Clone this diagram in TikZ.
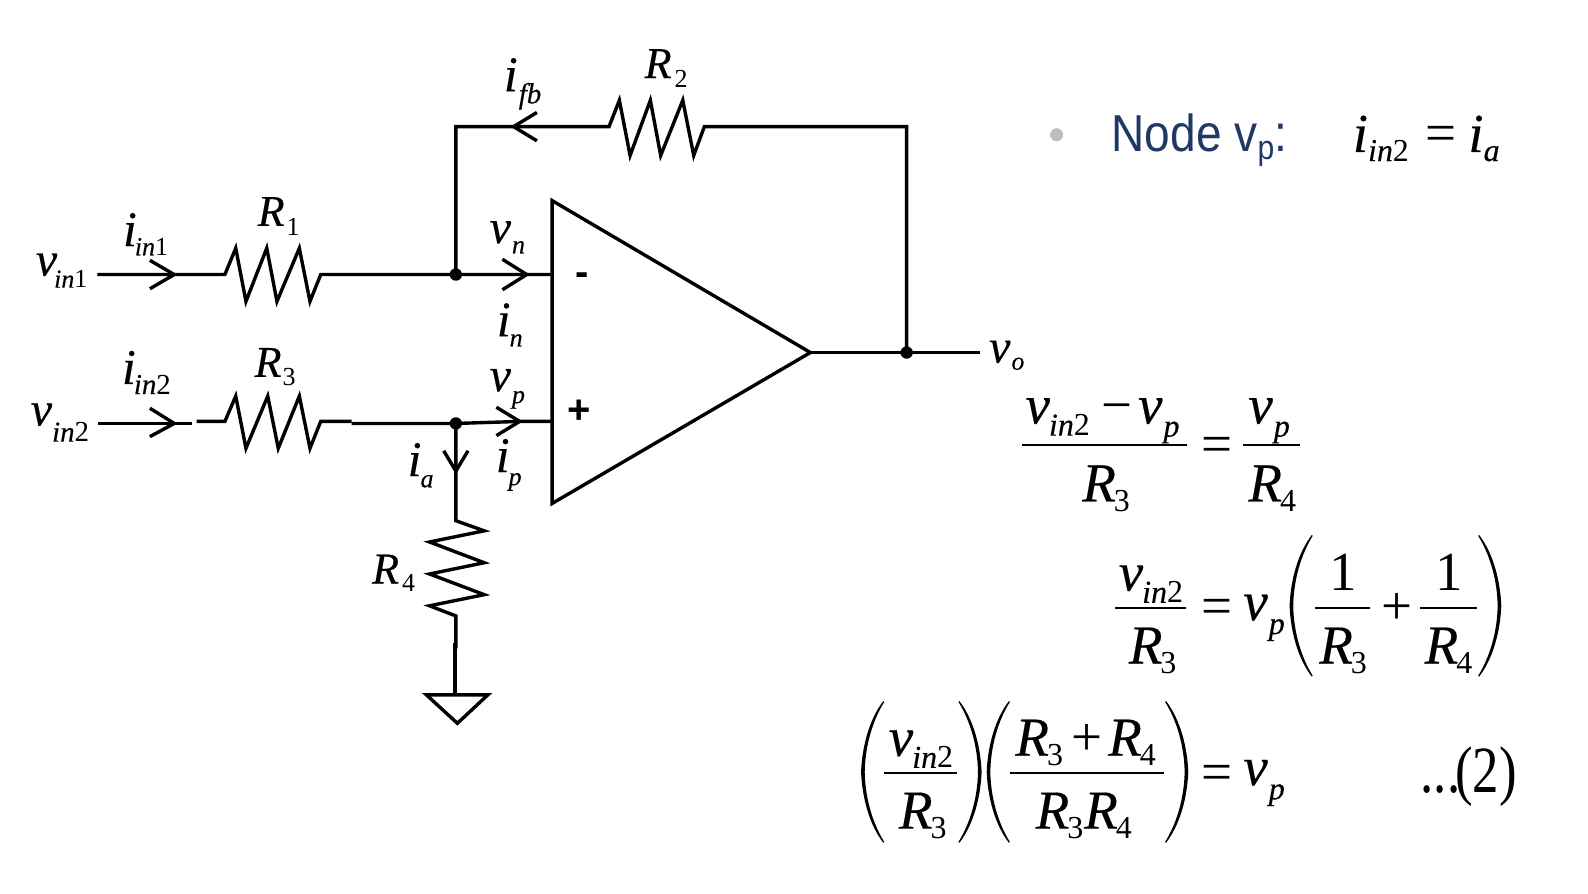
\documentclass[tikz,border=0pt]{standalone}
\usepackage{fontspec}
\setmainfont{Liberation Serif}[ItalicFeatures={FakeBold=0.3}]
\setsansfont{Liberation Sans}
\usetikzlibrary{calc}
\newdimen\uu \uu=0.5065pt
\newcommand\cmm{\fontsize{25}{25}\selectfont\itshape}
\newcommand\cvv{\fontsize{24}{24}\selectfont\itshape}
\newcommand\crr{\fontsize{22}{22}\selectfont\itshape}
\newcommand\eqf{\fontsize{27.5}{27.5}\selectfont\itshape}
\newcommand\subc[3]{\kern#1\uu\raisebox{-#2\uu}{\fontsize{13}{13}\selectfont #3}}
\newcommand\subd[3]{\kern#1\uu\raisebox{-#2\uu}{\fontsize{14.5}{14.5}\selectfont #3}}
\newcommand\sube[3]{\kern#1\uu\raisebox{-#2\uu}{\fontsize{16}{16}\selectfont #3}}
\newcommand\upp[1]{{\upshape #1}}
\definecolor{navy}{HTML}{1F3864}
\definecolor{dotgray}{HTML}{BDBDBD}
\tikzset{
  wire/.style={line width=1.7pt,line join=miter,black},
  jdot/.style={circle,fill=black,inner sep=0pt,minimum size=6.2pt},
  txt/.style={inner sep=0pt,anchor=base west},
  fbar/.style={line width=0.8pt,black},
}
\newcommand\TX[4]{\node[txt] (#1) at (#2,#3) {#4};}
\newcommand\bigparen[3]{\begin{scope}[shift={(#1,#2)},xscale=#3]
\fill (22,0) .. controls (8,18) and (1,45) .. (0,70) .. controls (1,95) and (8,122) .. (22,140) -- (22.8,139) .. controls (11,120) and (4,95) .. (3.6,70) .. controls (4,45) and (11,20) .. (22.8,1) -- cycle;
\end{scope}}
\newcommand\barbs[4]{\draw[wire] ($(#1)+(#2,#3)$) -- (#1) -- ($(#1)+(#2,#4)$);}
\begin{document}
\begin{tikzpicture}[x=0.5065pt,y=-0.5065pt]
\useasboundingbox (0,0) rectangle (1567.6,882.5);
% op amp
\coordinate (t1) at (545,198); \coordinate (t2) at (800,348); \coordinate (t3) at (545,497);
\draw[wire] (t1) -- (t2) -- (t3) -- cycle;
\node[inner sep=0pt,font=\sffamily\bfseries\fontsize{20}{20}\selectfont] (minus) at (575,276) {-};
\node[inner sep=0pt,font=\sffamily\bfseries\fontsize{20}{20}\selectfont] (plus) at (572,406) {+};
% coordinates
\coordinate (vi1) at (96,271); \coordinate (n1) at (545,271);
\node[jdot] (j1) at (450,271) {};
\coordinate (a1) at (172,271); \coordinate (a2) at (520,271);
\coordinate (fbc) at (450,125); \coordinate (fbr) at (895,125);
\node[jdot] (j3) at (895,348) {};
\coordinate (a3) at (507,125);
\coordinate (vo) at (967,348);
\coordinate (vi2) at (97,418); \coordinate (a4) at (172,418); \coordinate (brk) at (190,418);
\coordinate (brk2) at (194,416); \coordinate (r3l) at (222,416);
\node[jdot] (j2) at (450,418) {};
\coordinate (a5) at (513,416); \coordinate (n2) at (545,416);
\coordinate (a6) at (450,465);
% R1 branch
\draw[wire] (vi1) -- (222,271) -- (232.7,245) -- (242.8,297.5) -- (263.3,245) -- (273.4,297.5) -- (295.5,245) -- (306,297.5) -- (316.6,271) -- (j1.center) -- (n1);
\barbs{a1}{-24}{-14}{14}
\barbs{a2}{-24}{-15}{15}
% feedback
\draw[wire] (j1.center) -- (fbc) -- (601.2,125) -- (611.4,99) -- (622,153.5) -- (642,99) -- (652.2,153.5) -- (674,99) -- (684.8,153.5) -- (695.3,125) -- (fbr) -- (j3.center);
\draw[wire] ($(a3)+(23,-14)$) -- (a3) -- ($(a3)+(23,14)$);
% output
\draw[wire] (t2) -- (j3.center) -- (vo);
% R3 branch
\draw[wire] (vi2) -- (brk);
\barbs{a4}{-24}{-15}{13}
\draw[wire] (brk2) -- (r3l) -- (232.7,391) -- (242.8,442.5) -- (264.3,391) -- (274.7,442.5) -- (295.5,391) -- (306,442.5) -- (316.6,416) -- (347,416);
\draw[wire] (347,418) -- (j2.center) -- (a5) -- (n2);
\barbs{a5}{-23}{-14}{14}
% R4 branch
\draw[wire] (j2.center) -- (450,514) -- (478,524) -- (424,535) -- (478,555.5) -- (424,566.6) -- (478,587) -- (424,598) -- (450,608) -- (450,640);
\draw[wire] ($(a6)+(-12,-20)$) -- (a6) -- ($(a6)+(12,-20)$);
\draw[wire] (449,635) -- (449,685);
\draw[wire] (421,686) -- (481.5,686) -- (451.5,714) -- cycle;
% circuit labels
\TX{lvin1}{35}{272}{\cvv v\subc{-3}{12}{in\upp{1}}}
\TX{lvin2}{30}{420}{\cvv v\subd{0}{16}{in\upp{2}}}
\TX{liin1}{121}{243}{\cmm i\subc{-2}{9}{in\upp{1}}}
\TX{liin2}{120}{379}{\cmm i\subd{-2}{10}{in\upp{2}}}
\TX{lifb}{497}{90}{\cmm i\subd{1}{12}{fb}}
\TX{lr1}{254}{223}{\crr R\subc{2}{9}{\upp{1}}}
\TX{lr2}{636}{77}{\crr R\subc{3}{9}{\upp{2}}}
\TX{lr3}{251}{372}{\crr R\subc{1}{9}{\upp{3}}}
\TX{lr4}{367}{576}{\crr R\subc{3}{8}{\upp{4}}}
\TX{lvn}{483}{240}{\cvv v\subc{1}{10}{n}}
\TX{lvp}{483}{386}{\cvv v\subc{1}{12}{p}}
\TX{lin}{490}{332}{\cmm i\subc{-1}{10}{n}}
\TX{lip}{489}{466}{\cmm i\subc{-1}{13}{p}}
\TX{lia}{402}{470}{\cmm i\subc{-1}{11}{a}}
\TX{lvo}{976}{358}{\cvv v\subc{1}{7}{o}}
% header
\node[circle,fill=dotgray,inner sep=0pt,minimum size=6.5pt] (bul) at (1043,133) {};
\TX{hdr}{1097}{150}{\sffamily\fontsize{26}{26}\selectfont\color{navy}\scalebox{0.885}[1]{Node v\raisebox{-7\uu}{\fontsize{17}{17}\selectfont p}:}}
\TX{hq}{1335}{150}{\eqf i\sube{0}{9}{in\upp{2}}\kern16\uu\upp{=}\kern12\uu i\sube{0}{9}{a}}
% eq 1
\TX{e1a}{1012}{418}{\eqf v\sube{-1}{12}{in\upp{2}}\kern11\uu\upp{−}\kern6\uu v\sube{1}{13}{p}}
\draw[fbar] (1009,439) -- (1172,439);
\TX{e1b}{1068}{495}{\eqf R\sube{-2}{10}{\upp{3}}}
\TX{e1c}{1186}{457}{\eqf\upp{=}}
\TX{e1d}{1232}{418}{\eqf v\sube{1}{13}{p}}
\draw[fbar] (1227,439) -- (1283,439);
\TX{e1e}{1232}{495}{\eqf R\sube{-2}{10}{\upp{4}}}
% eq 2
\TX{e2a}{1104}{583}{\eqf v\sube{-1}{12}{in\upp{2}}}
\draw[fbar] (1101,600) -- (1171,600);
\TX{e2b}{1114}{655}{\eqf R\sube{-2}{10}{\upp{3}}}
\TX{e2c}{1186}{616}{\eqf\upp{=}}
\TX{e2d}{1227}{612}{\eqf v\sube{1}{14}{p}}
\bigparen{1273}{528}{1}
\TX{e2e}{1312}{583}{\eqf\upp{1}}
\draw[fbar] (1298,600) -- (1352,600);
\TX{e2f}{1302}{655}{\eqf R\sube{-2}{10}{\upp{3}}}
\TX{e2g}{1363}{616}{\eqf\upp{+}}
\TX{e2h}{1417}{583}{\eqf\upp{1}}
\draw[fbar] (1402,600) -- (1458,600);
\TX{e2i}{1406}{655}{\eqf R\sube{-2}{10}{\upp{4}}}
\bigparen{1482}{528}{-1}
% eq 3
\bigparen{850}{692}{1}
\TX{e3a}{877}{746}{\eqf v\sube{-1}{12}{in\upp{2}}}
\draw[fbar] (873,763) -- (945,763);
\TX{e3b}{887}{818}{\eqf R\sube{-2}{10}{\upp{3}}}
\bigparen{969}{692}{-1}
\bigparen{974}{692}{1}
\TX{e3c}{1002}{746}{\eqf R\sube{-2}{10}{\upp{3}}\kern8\uu\upp{+}\kern6\uu R\sube{-2}{10}{\upp{4}}}
\draw[fbar] (997,763) -- (1149,763);
\TX{e3d}{1022}{818}{\eqf R\sube{-2}{10}{\upp{3}}\kern1\uu R\sube{-2}{10}{\upp{4}}}
\bigparen{1173}{692}{-1}
\TX{e3e}{1186}{780}{\eqf\upp{=}}
\TX{e3f}{1227}{775}{\eqf v\sube{1}{14}{p}}
\TX{e3g}{1402}{782}{\scalebox{0.8}[1]{\fontsize{33}{33}\selectfont ...\kern-6\uu(2)}}
\end{tikzpicture}
\end{document}
